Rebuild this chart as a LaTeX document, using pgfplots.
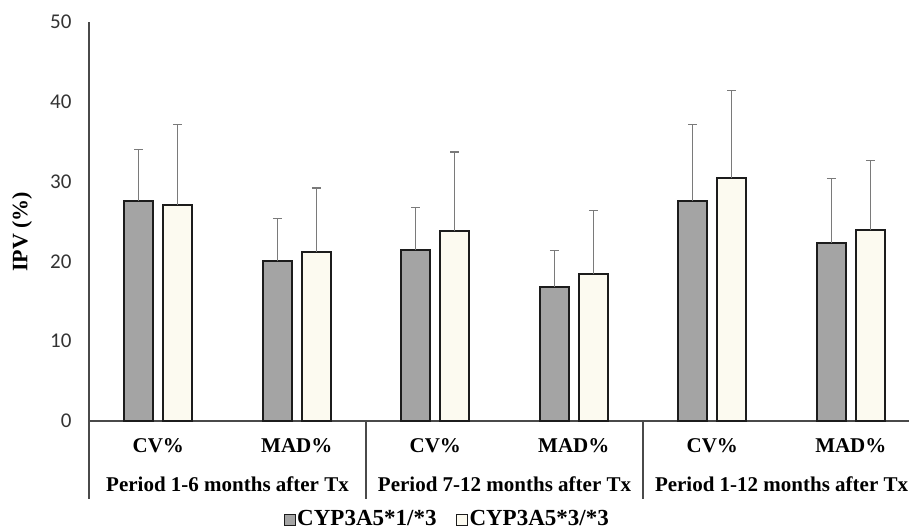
\documentclass[border=0pt]{standalone}
\usepackage{pgfplots}
\pgfplotsset{compat=1.18}
\usepackage{fontspec}
\setmainfont{Liberation Serif}
\newfontfamily\tickfont{Carlito}

\definecolor{darkbar}{HTML}{A4A4A4}
\definecolor{lightbar}{HTML}{FCFAF0}
\definecolor{barline}{HTML}{1C1C1C}
\definecolor{errgray}{HTML}{7A7A7A}
\definecolor{axisgray}{HTML}{4A4A4A}

\begin{document}
\begin{tikzpicture}
  \begin{axis}[
    at={(0pt,0pt)}, anchor=south west,
    scale only axis,
    width=820pt, height=399pt,
    ybar=10pt, bar width=29pt,
    xmin=-0.5, xmax=5.42,
    ymin=0, ymax=50,
    axis lines*=left,
    axis line style={axisgray, line width=1.3pt},
    ytick={0,10,...,50},
    major tick length=0pt,
    xtick={0,...,5},
    xticklabels={CV\%, MAD\%, CV\%, MAD\%, CV\%, MAD\%},
    xticklabel style={font=\bfseries\fontsize{21}{24}\selectfont, anchor=base, yshift=-31pt},
    /pgf/number format/assume math mode=true,
    yticklabel style={font=\tickfont\fontsize{21}{24}\selectfont, text=black!80, xshift=-14pt},
    ylabel={IPV (\%)},
    ylabel style={at={(axis description cs:-0.0817,0.474)}, anchor=center,
      font=\bfseries\fontsize{22}{24}\selectfont},
    legend style={at={(axis description cs:0.4366,0)}, anchor=center, yshift=-98pt,
      draw=none, fill=none, legend columns=2,
      font=\bfseries\fontsize{23}{26}\selectfont,
      nodes={inner sep=1.5pt},
      /tikz/every even column/.append style={column sep=18pt}},
    legend image code/.code={\draw[#1, line width=1pt] (0pt,-6pt) rectangle (11pt,5pt);},
    clip=false,
  ]
    % CYP3A5*1/*3
    \addplot[draw=barline, line width=2pt, fill=darkbar,
      error bars/.cd, y dir=plus, y explicit,
      error bar style={errgray, line width=1.2pt},
      error mark options={rotate=90, errgray, mark size=4.5pt, line width=1.2pt}]
      coordinates {
        (0,27.6) +- (0,6.4)
        (1,20.0) +- (0,5.4)
        (2,21.4) +- (0,5.4)
        (3,16.8) +- (0,4.6)
        (4,27.6) +- (0,9.6)
        (5,22.3) +- (0,8.1)
      };
    % CYP3A5*3/*3
    \addplot[draw=barline, line width=2pt, fill=lightbar,
      error bars/.cd, y dir=plus, y explicit,
      error bar style={errgray, line width=1.2pt},
      error mark options={rotate=90, errgray, mark size=4.5pt, line width=1.2pt}]
      coordinates {
        (0,27.1) +- (0,10.1)
        (1,21.2) +- (0,8.0)
        (2,23.8) +- (0,9.9)
        (3,18.4) +- (0,8.0)
        (4,30.4) +- (0,11.0)
        (5,23.9) +- (0,8.7)
      };
    \legend{CYP3A5*1/*3, CYP3A5*3/*3}

    % group separators below the axis
    \draw[axisgray, line width=1.3pt] (axis cs:-0.5,0) -- ++(0pt,-78pt);
    \draw[axisgray, line width=1.3pt] (axis cs:1.5,0) -- ++(0pt,-78pt);
    \draw[axisgray, line width=1.3pt] (axis cs:3.5,0) -- ++(0pt,-78pt);

    \begin{scope}[font=\bfseries\fontsize{21}{24}\selectfont]
      \node[anchor=base, yshift=-70pt] at (axis cs:0.5,0) {Period 1-6 months after Tx};
      \node[anchor=base, yshift=-70pt] at (axis cs:2.5,0) {Period 7-12 months after Tx};
      \node[anchor=base, yshift=-70pt] at (axis cs:4.5,0) {Period 1-12 months after Tx};
    \end{scope}
  \end{axis}
  \pgfresetboundingbox
  \path[use as bounding box] (-89pt,-110pt) rectangle (820pt,421pt);
\end{tikzpicture}
\end{document}
